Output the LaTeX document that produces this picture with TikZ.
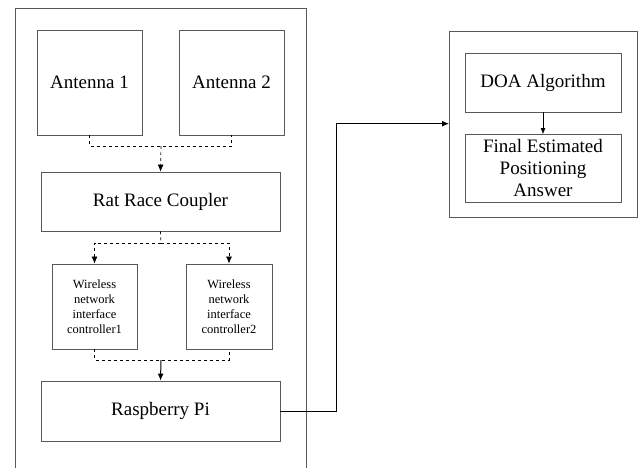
\documentclass[tikz,border=0pt]{standalone}
\usepackage{fontspec}
\setmainfont{Liberation Serif}
\usetikzlibrary{arrows.meta}

\tikzset{
  frame/.style={draw=black!65, line width=0.8pt},
  blockbox/.style={draw=black!65, line width=0.8pt, align=center, inner sep=0pt,
    font=\fontsize{19}{22}\selectfont},
  smallbox/.style={blockbox, font=\fontsize{12.5}{15}\selectfont},
  dashlink/.style={dashed, line width=0.7pt},
  link/.style={line width=1pt, -{Latex[length=7pt,width=6pt]}}
}

\begin{document}
\begin{tikzpicture}[x=1pt, y=-1pt]
  % canvas
  \useasboundingbox (0,0) rectangle (641,468);

  % receiver frame (runs off the bottom)
  \draw[frame] (15,470) -- (15,8) -- (306,8) -- (306,470);
  % computing frame
  \draw[frame] (449,31) rectangle (637,217);

  % Antennas
  \node[blockbox, minimum width=105pt, minimum height=105pt] (ant1) at (89.5,82.5) {Antenna 1};
  \node[blockbox, minimum width=105pt, minimum height=105pt] (ant2) at (231.5,82.5) {Antenna 2};

  % Coupler and receivers
  \node[blockbox, minimum width=239pt, minimum height=59pt] (coupler) at (160.5,201.5) {Rat Race Coupler};
  \node[smallbox, minimum width=85pt, minimum height=85pt] (nic1) at (94.5,306.5)
    {Wireless\\network\\interface\\controller1};
  \node[smallbox, minimum width=86pt, minimum height=85pt] (nic2) at (229,306.5)
    {Wireless\\network\\interface\\controller2};
  \node[blockbox, minimum width=239pt, minimum height=60pt] (pi) at (160.5,411) {Raspberry Pi};

  % Processing
  \node[blockbox, minimum width=156pt, minimum height=59pt] (doa) at (543,82.5) {DOA Algorithm};
  \node[blockbox, minimum width=156pt, minimum height=68pt] (final) at (543,168.5)
    {Final Estimated\\Positioning\\Answer};

  % Join points of the dashed buses
  \coordinate (busA) at (161,146);
  \coordinate (busB) at (161,243);
  \coordinate (busC) at (161,360);

  % antennas -> coupler
  \draw[dashlink] (ant1.south) |- (busA) -| (ant2.south);
  \draw[dashlink, -{Latex[length=7pt,width=6pt]}] (busA) -- (coupler.north);

  % coupler -> receivers
  \draw[dashlink] (coupler.south) -- (busB);
  \draw[dashlink, -{Latex[length=7pt,width=6pt]}] (busB) -| (nic1.north);
  \draw[dashlink, -{Latex[length=7pt,width=6pt]}] (busB) -| (nic2.north);

  % receivers -> Raspberry Pi
  \draw[dashlink] (nic1.south) |- (busC) -| (nic2.south);
  \draw[link] (busC) -- (pi.north);

  % Raspberry Pi -> processing
  \coordinate (turn) at (336,123.7);
  \draw[link] (pi.east) -| (turn) -- (449,123.7);
  \draw[line width=0.7pt, -{Latex[length=6pt,width=5pt]}] (doa.south) -- (final.north);

\end{tikzpicture}
\end{document}
